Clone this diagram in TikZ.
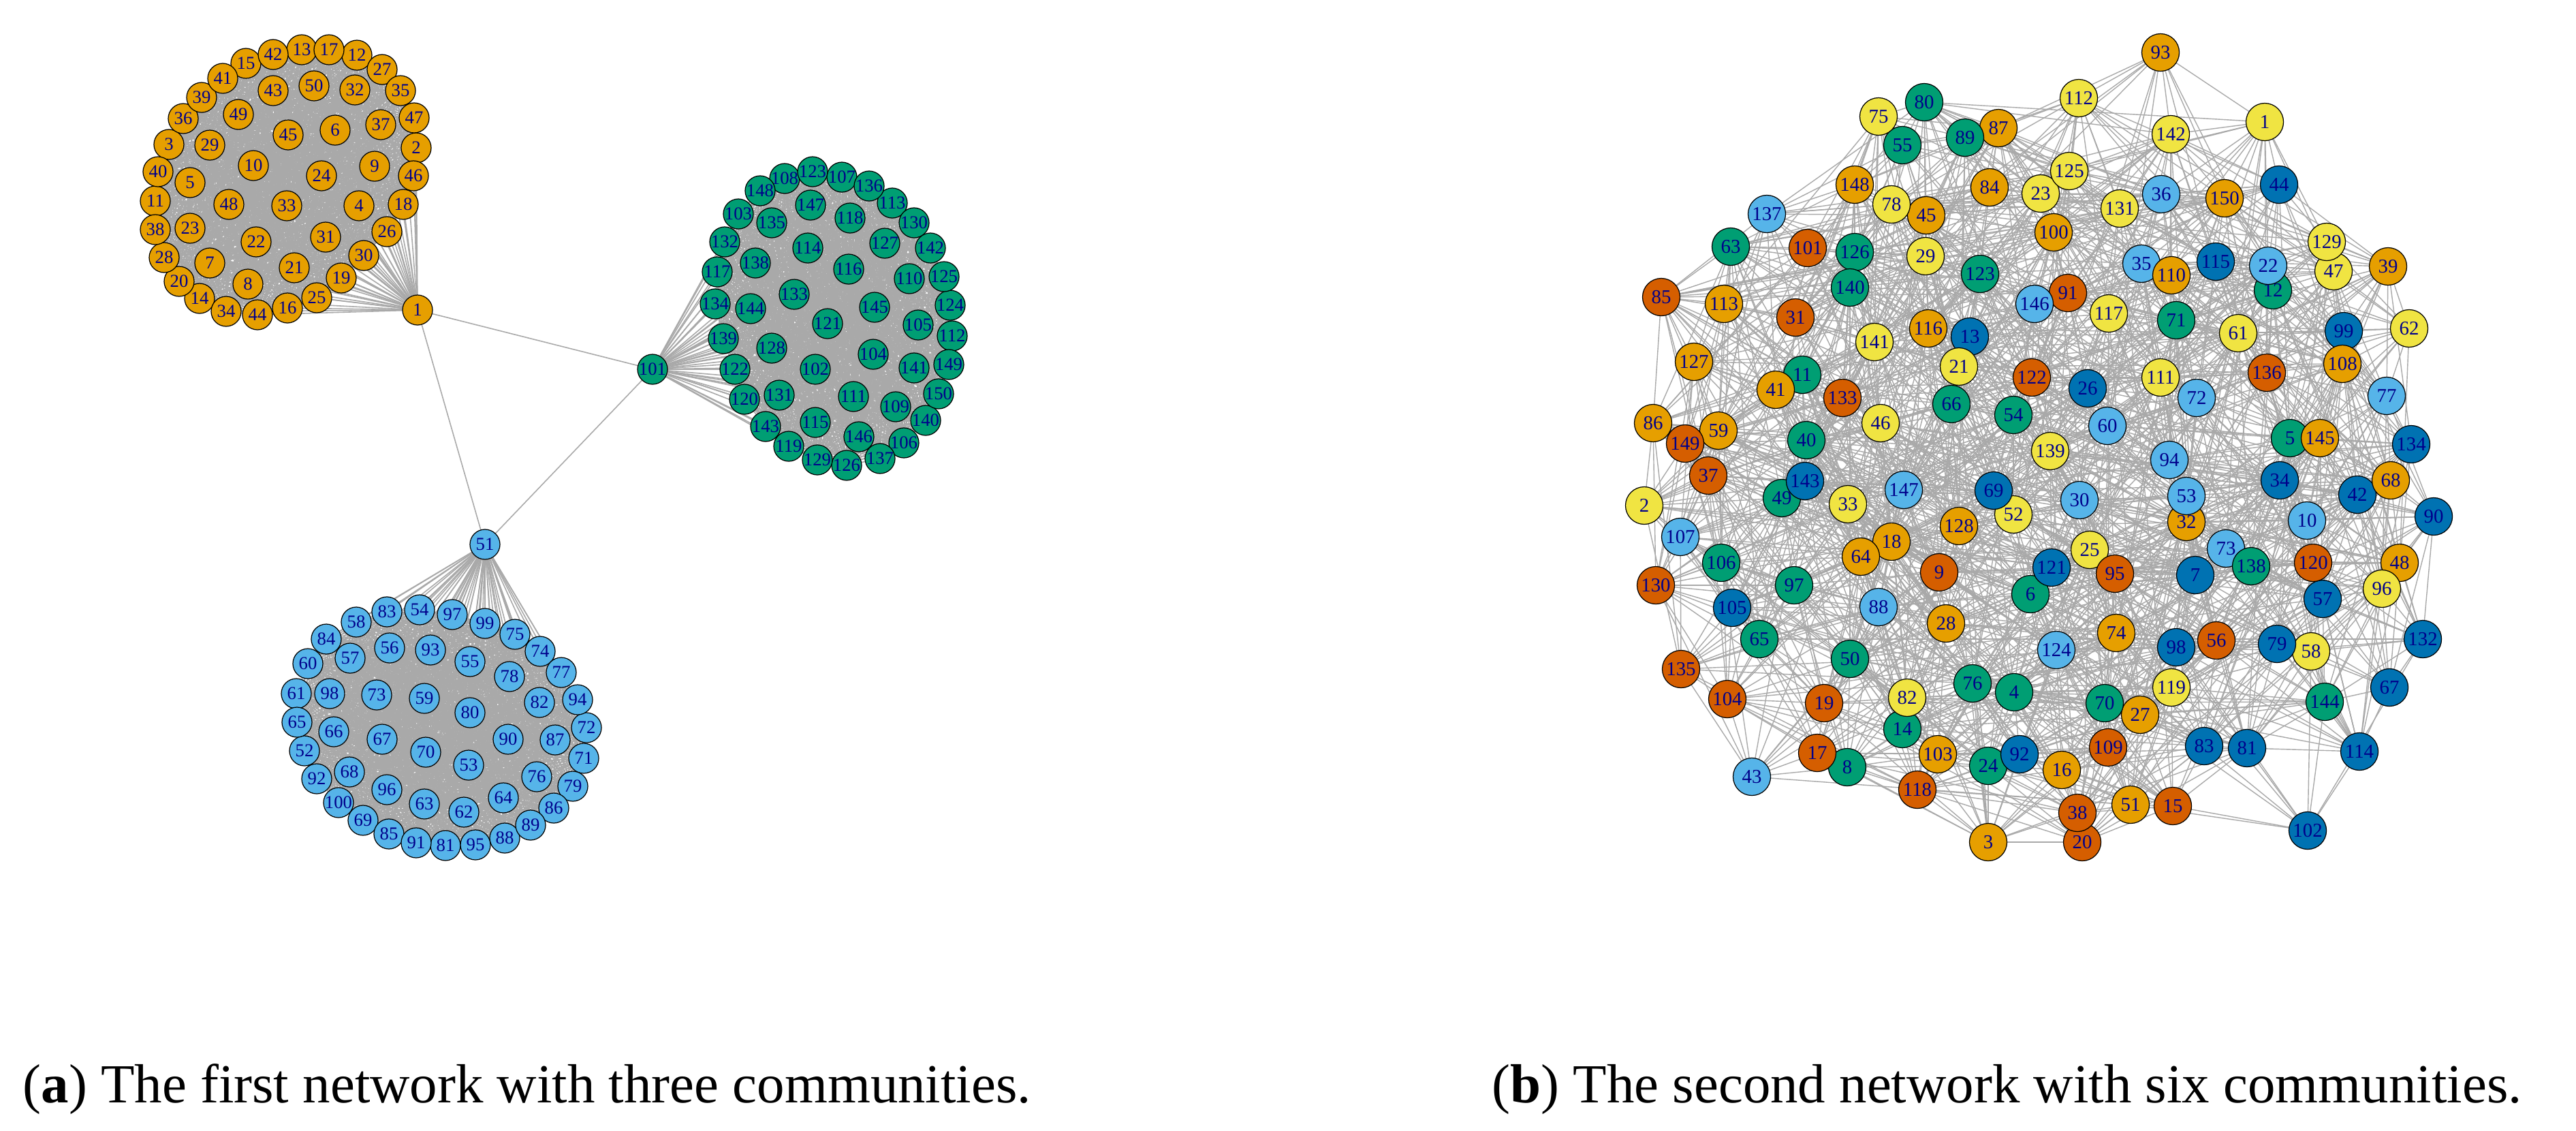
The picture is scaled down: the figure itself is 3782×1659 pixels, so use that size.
\documentclass[tikz,border=0pt]{standalone}
\usepackage{fontspec}
\setmainfont{Liberation Serif}
\pgfdeclarelayer{background}
\pgfsetlayers{background,main}
\definecolor{colo}{HTML}{E69F00}
\definecolor{cols}{HTML}{56B4E9}
\definecolor{colg}{HTML}{009E73}
\definecolor{coly}{HTML}{F0E442}
\definecolor{cold}{HTML}{0072B2}
\definecolor{colv}{HTML}{D55E00}
\definecolor{lab}{HTML}{00008B}
\definecolor{edg}{HTML}{A9A9A9}
\begin{document}
\begin{tikzpicture}[x=0.01cm,y=-0.01cm,
  nodeA/.style={circle,draw=black,line width=0.35pt,minimum size=0.44cm,inner sep=0pt,text=lab,font=\fontsize{7.6}{8}\selectfont},
  nodeB/.style={nodeA,minimum size=0.55cm,font=\fontsize{8.2}{9}\selectfont},
  edgeA/.style={draw=edg,line width=0.45pt},
  edgeB/.style={draw=edg,line width=0.4pt},
  captext/.style={anchor=base west,inner sep=0pt,font=\fontsize{23}{27}\selectfont}]
\useasboundingbox (0,0) rectangle (3782,1659);

% ---------- network (a) ----------
\foreach \n/\x/\y in {1/613/455, 2/611/217, 3/248/212, 4/527/302, 5/279/268, 6/492/191, 7/308/386, 8/364/417, 9/550/244, 10/372/243, 11/228/295, 12/524/81, 13/443/73, 14/293/438, 15/361/93, 16/422/452, 17/483/73, 18/592/300, 19/501/408, 20/263/413, 21/432/393, 22/376/355, 23/279/335, 24/472/258, 25/465/437, 26/568/340, 27/561/102, 28/241/378, 29/308/213, 30/534/375, 31/478/348, 32/521/132, 33/421/302, 34/332/457, 35/588/133, 36/269/174, 37/559/183, 38/228/337, 39/296/143, 40/232/252, 41/327/115, 42/401/80, 43/401/133, 44/378/462, 45/423/198, 46/607/258, 47/608/173, 48/336/300, 49/350/168, 50/461/126}
  {\node[nodeA,fill=colo] (a\n) at (\x,\y) {\n};}
\foreach \n/\x/\y in {51/712/799, 52/447/1102, 53/688/1123, 54/616/895, 55/690/971, 56/572/951, 57/514/966, 58/523/913, 59/623/1025, 60/452/974, 61/435/1018, 62/681/1192, 63/623/1180, 64/739/1171, 65/436/1060, 66/490/1074, 67/561/1085, 68/513/1133, 69/533/1204, 70/625/1104, 71/857/1113, 72/861/1068, 73/553/1020, 74/793/956, 75/756/931, 76/788/1140, 77/824/987, 78/748/993, 79/841/1154, 80/690/1046, 81/654/1241, 82/792/1031, 83/568/898, 84/479/938, 85/571/1224, 86/813/1186, 87/815/1086, 88/741/1230, 89/779/1211, 90/746/1085, 91/611/1237, 92/465/1143, 93/632/954, 94/848/1027, 95/698/1240, 96/568/1159, 97/664/902, 98/484/1018, 99/712/915, 100/497/1178}
  {\node[nodeA,fill=cols] (a\n) at (\x,\y) {\n};}
\foreach \n/\x/\y in {101/958/542, 102/1197/542, 103/1084/314, 104/1282/520, 105/1348/477, 106/1327/650, 107/1236/260, 108/1152/262, 109/1315/597, 110/1335/409, 111/1253/582, 112/1398/493, 113/1310/298, 114/1186/364, 115/1197/620, 116/1246/395, 117/1053/399, 118/1248/320, 119/1158/655, 120/1093/586, 121/1215/475, 122/1079/542, 123/1193/252, 124/1395/448, 125/1386/406, 126/1243/683, 127/1299/357, 128/1133/511, 129/1200/675, 130/1342/327, 131/1144/580, 132/1064/355, 133/1166/432, 134/1050/446, 135/1133/327, 136/1276/273, 137/1292/673, 138/1109/386, 139/1062/497, 140/1359/617, 141/1342/540, 142/1366/364, 143/1124/626, 144/1102/453, 145/1284/451, 146/1261/641, 147/1190/301, 148/1116/280, 149/1393/535, 150/1378/578}
  {\node[nodeA,fill=colg] (a\n) at (\x,\y) {\n};}

\begin{pgfonlayer}{background}
\foreach \s in {0,50,100}{
  \foreach \i in {1,...,49}{
    \pgfmathtruncatemacro\ii{\s+\i}
    \pgfmathtruncatemacro\js{\i+1}
    \foreach \j in {\js,...,50}{
      \pgfmathtruncatemacro\jj{\s+\j}
      \draw[edgeA] (a\ii.center) -- (a\jj.center);
    }
  }
}
\draw[edgeA] (a1.center) -- (a101.center);
\draw[edgeA] (a1.center) -- (a51.center);
\draw[edgeA] (a101.center) -- (a51.center);
\end{pgfonlayer}

% ---------- network (b) ----------
\foreach \n/\x/\y/\k in {1/3325/179/y, 2/2414/742/y, 3/2919/1236/o, 4/2957/1016/g, 5/3362/643/g, 6/2981/872/g, 7/3223/844/d, 8/2712/1126/g, 9/2847/840/v, 10/3387/764/s, 11/2646/550/g, 12/3337/426/g, 13/2892/494/d, 14/2793/1070/g, 15/3190/1183/v, 16/3027/1130/o, 17/2668/1105/v, 18/2777/795/o, 19/2678/1032/v, 20/3057/1236/v, 21/2876/538/y, 22/3330/390/s, 23/2996/284/y, 24/2919/1124/g, 25/3068/807/y, 26/3065/570/d, 27/3142/1049/o, 28/2857/915/o, 29/2827/376/y, 30/3053/734/s, 31/2636/466/v, 32/3210/766/o, 33/2713/740/y, 34/3347/705/d, 35/3144/387/s, 36/3173/285/s, 37/2508/698/v, 38/3050/1193/v, 39/3506/391/o, 40/2652/646/g, 41/2607/572/o, 42/3461/726/d, 43/2572/1140/s, 44/3346/271/d, 45/2828/316/o, 46/2761/621/y, 47/3426/398/y, 48/3523/826/o, 49/2616/731/g, 50/2716/967/g, 51/3128/1181/o, 52/2956/755/y, 53/3210/728/s, 54/2956/609/g, 55/2793/213/g, 56/3254/940/v, 57/3410/879/d, 58/3393/956/y, 59/2523/632/o, 60/3094/625/s, 61/3286/489/y, 62/3537/482/y, 63/2541/362/g, 64/2732/817/o, 65/2583/938/g, 66/2865/593/g, 67/3508/1009/d, 68/3510/705/o, 69/2927/720/d, 70/3090/1032/g, 71/3195/470/g, 72/3225/584/s, 73/3268/805/s, 74/3107/929/o, 75/2758/171/y, 76/2896/1003/g, 77/3504/581/s, 78/2777/300/y, 79/3343/945/d, 80/2825/150/g, 81/3299/1098/d, 82/2800/1024/y, 83/3236/1095/d, 84/2921/275/o, 85/2439/436/v, 86/2427/621/o, 87/2934/188/o, 88/2758/891/s, 89/2885/202/g, 90/3573/758/d, 91/3036/430/v, 92/2965/1107/d, 93/3172/77/o, 94/3185/675/s, 95/3105/842/v, 96/3497/864/y, 97/2634/859/g, 98/3195/950/d, 99/3441/486/d, 100/3015/341/o, 101/2654/364/v, 102/3388/1219/d, 103/2845/1107/o, 104/2536/1026/v, 105/2543/892/d, 106/2527/826/g, 107/2467/788/s, 108/3439/534/o, 109/3095/1097/v, 110/3188/404/o, 111/3172/554/y, 112/3052/144/y, 113/2531/446/o, 114/3464/1103/d, 115/3253/384/d, 116/2831/482/o, 117/3096/460/y, 118/2815/1159/v, 119/3188/1009/y, 120/3396/826/v, 121/3012/833/d, 122/2983/554/v, 123/2907/402/g, 124/3019/954/s, 125/3038/251/y, 126/2723/370/g, 127/2487/531/o, 128/2876/772/o, 129/3416/355/y, 130/2431/859/v, 131/3112/306/y, 132/3557/938/d, 133/2705/584/v, 134/3540/652/d, 135/2468/982/v, 136/3328/547/v, 137/2594/314/s, 138/3305/831/g, 139/3010/662/y, 140/2716/422/g, 141/2752/502/y, 142/3187/197/y, 143/2650/706/d, 144/3413/1030/g, 145/3406/643/o, 146/2987/446/s, 147/2795/719/s, 148/2723/271/o, 149/2474/651/v, 150/3266/291/o}
  {\node[nodeB,fill=col\k] (b\n) at (\x,\y) {\n};
   \expandafter\xdef\csname bx\n\endcsname{\x}%
   \expandafter\xdef\csname by\n\endcsname{\y}}

\begin{pgfonlayer}{background}
\pgfmathsetseed{11}
\foreach \i in {1,...,149}{
  \edef\pxa{\csname bx\i\endcsname}\edef\pya{\csname by\i\endcsname}%
  \pgfmathtruncatemacro\js{\i+1}
  \foreach \j in {\js,...,150}{
    \edef\pxb{\csname bx\j\endcsname}\edef\pyb{\csname by\j\endcsname}%
    \pgfmathsetmacro\dd{((\pxa-\pxb)/100)^2+((\pya-\pyb)/100)^2}%
    \pgfmathtruncatemacro\ok{rnd<(0.9/(1+(\dd/7)^2)+0.018)}%
    \ifnum\ok=1 \draw[edgeB] (b\i.center) -- (b\j.center);\fi
  }
}
\end{pgfonlayer}

% ---------- captions ----------
\node[captext] (capA) at (33,1618) {(\textbf{a}) The first network with three communities.};
\node[captext] (capB) at (2190,1618) {(\textbf{b}) The second network with six communities.};
\end{tikzpicture}
\end{document}
